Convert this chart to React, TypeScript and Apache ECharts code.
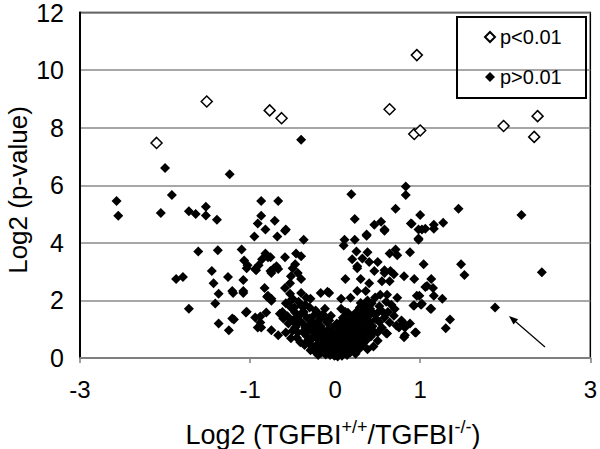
import React, { useEffect, useRef } from "react";
import * as echarts from "echarts";

const xTickLabels = [-3, -1, 0, 1, 3];
const xTickMarks = [-3, -1, 1, 3];
const yTicks = [0, 2, 4, 6, 8, 10, 12];

const sigLabel = "p<0.01";
const nsLabel = "p>0.01";

// p<0.01 (open diamonds): [log2 ratio, log2 p-value]
const sigPoints = [
  [-2.1, 7.47], [-1.51, 8.91], [-0.77, 8.6], [-0.63, 8.33], [0.96, 10.52],
  [0.64, 8.64], [0.93, 7.78], [1.0, 7.9], [1.98, 8.06], [2.38, 8.4], [2.34, 7.68],
];

// p>0.01 (filled diamonds), upper isolated points
const nsUpper = [
  [-2.57, 5.45], [-2.55, 4.94], [-2.0, 6.6], [-2.05, 5.04], [-1.92, 5.66], [-1.72, 5.1],
  [-1.64, 5.0], [-1.52, 5.25], [-1.52, 4.95], [-1.39, 4.8], [-1.24, 6.38], [-0.87, 5.45],
  [-0.87, 4.94], [-0.67, 5.45], [-0.71, 4.77], [-0.91, 4.67], [-0.4, 7.58], [0.19, 5.69],
  [0.23, 4.83], [0.46, 4.63], [0.54, 4.73], [0.71, 5.18], [0.83, 5.96], [0.83, 5.66],
  [1.0, 4.97], [0.89, 4.67], [1.16, 4.63], [1.27, 4.7], [1.45, 5.18], [2.19, 4.97],
  [-0.58, 4.46], [-0.37, 4.11], [-0.82, 4.46], [-0.59, 4.42], [-0.68, 4.22], [-0.95, 4.22],
  [0.9, 4.66], [0.98, 4.46], [1.06, 4.49], [0.37, 4.25], [0.98, 4.15], [0.58, 4.46],
  [1.02, 4.46], [1.16, 4.49], [0.58, 4.42], [0.37, 4.29], [0.11, 4.11], [0.23, 4.11],
];

// p>0.01 right-side scattered points
const nsRight = [
  [2.43, 2.98], [1.48, 3.26], [1.52, 2.88], [1.88, 1.75], [1.35, 1.34], [1.3, 1.03],
  [1.26, 2.06], [1.16, 2.16], [1.13, 1.71], [1.15, 2.43], [1.13, 2.74], [1.06, 2.47],
  [0.93, 2.74], [1.04, 3.26], [0.99, 2.16], [0.92, 1.82], [1.01, 1.85], [0.95, 0.89],
  [0.88, 3.67], [0.98, 4.11], [0.82, 1.06], [0.81, 0.72], [0.72, 1.13], [0.6, 0.86],
  [0.1, 3.91], [0.25, 3.7], [0.38, 3.67], [0.32, 3.46], [0.2, 3.43], [0.4, 3.33],
  [0.5, 3.33], [0.64, 3.63], [0.71, 3.77], [0.73, 3.57], [0.26, 3.19], [0.58, 3.05],
  [0.65, 3.02], [0.26, 3.12], [0.46, 3.02], [0.58, 2.95], [0.69, 2.91], [0.81, 2.84],
  [0.12, 2.74], [0.3, 2.74], [0.4, 2.6], [0.55, 2.67], [0.64, 2.67], [0.26, 2.33],
  [0.36, 2.33], [0.53, 2.2], [0.61, 2.2], [0.73, 2.09], [0.96, 2.16], [1.08, 2.5],
  [0.07, 2.06], [0.18, 2.09], [0.3, 1.91], [0.4, 1.82], [-0.07, 2.26], [0.93, 1.82],
  [1.02, 1.88], [1.12, 1.71], [0.07, 1.71], [0.15, 1.57], [0.41, 1.71], [0.5, 1.57],
  [0.58, 1.41], [0.69, 1.47], [0.64, 1.23], [0.75, 1.06], [0.81, 1.2], [0.61, 0.85],
  [0.82, 0.79], [0.94, 0.89], [0.5, 0.89], [0.34, 0.55], [0.23, 0.45],
];

// p>0.01 left-side scattered points
const nsLeft = [
  [-1.87, 2.74], [-1.79, 2.81], [-1.72, 1.71], [-1.61, 3.7], [-1.38, 3.74], [-1.45, 3.02],
  [-1.43, 2.6], [-1.37, 2.23], [-1.41, 1.89], [-1.37, 1.2], [-1.25, 0.96], [-1.19, 1.34],
  [-1.26, 2.81], [-1.2, 2.26], [-1.08, 2.26], [-1.08, 2.71], [-1.1, 3.77], [-1.05, 1.58],
  [-1.07, 3.39], [-1.03, 3.22], [-0.94, 1.41], [-0.91, 1.06], [-0.88, 1.44], [-0.94, 3.09],
  [-0.83, 2.43], [-0.81, 1.58], [-0.82, 3.63], [-0.86, 3.43], [-0.79, 3.5], [-0.59, 3.5],
  [-0.75, 2.95], [-0.72, 3.12], [-0.67, 3.09], [-0.8, 2.13], [-0.75, 1.99], [-0.76, 3.5],
  [-0.46, 3.63], [-0.4, 3.53], [-0.47, 3.26], [-0.69, 3.19], [-0.9, 3.22], [-1.04, 3.12],
  [-0.93, 3.05], [-0.76, 3.02], [-0.5, 3.12], [-1.21, 2.33], [-1.08, 2.33], [-0.79, 2.16],
  [-0.75, 2.06], [-0.59, 2.43], [-0.53, 2.6], [-0.52, 2.84], [-0.44, 2.95], [-0.4, 2.74],
  [-0.4, 2.26], [-0.34, 2.09], [-0.29, 2.06], [-0.17, 2.26], [-0.09, 2.3], [-0.5, 2.06],
  [-0.53, 2.23], [-1.21, 1.37], [-1.04, 1.61], [-0.88, 1.23], [-0.87, 1.06], [-0.65, 1.54],
  [-0.61, 1.37], [-0.52, 1.75], [-0.47, 1.58], [-0.4, 1.82], [-0.4, 1.54], [-0.3, 1.37],
  [-0.2, 1.54], [-0.12, 1.71], [-0.05, 1.47], [-0.75, 0.96], [-0.67, 0.79], [-0.58, 0.89],
  [-0.52, 0.69], [-0.47, 1.06], [-0.44, 0.89], [-0.32, 0.96], [-0.41, 0.55], [-0.32, 0.62],
  [-0.24, 0.79], [-0.2, 0.45], [-0.12, 0.45], [-0.29, 0.27], [-0.09, 0.21], [-0.17, 0.17],
  [0.0, 0.1],
];

// p>0.01 dense central cluster
const nsCluster = [
  [-0.55, 1.2], [-0.5, 1.3], [-0.45, 1.15], [-0.42, 1.3], [-0.38, 1.2], [-0.35, 1.05],
  [-0.33, 1.4], [-0.3, 1.15], [-0.28, 0.95], [-0.27, 1.25], [-0.25, 1.05], [-0.24, 0.88],
  [-0.22, 1.2], [-0.21, 0.7], [-0.2, 1.0], [-0.19, 0.85], [-0.18, 0.6], [-0.17, 1.1],
  [-0.16, 0.75], [-0.15, 0.5], [-0.14, 0.95], [-0.13, 0.65], [-0.12, 0.35], [-0.11, 0.8],
  [-0.1, 0.55], [-0.09, 0.3], [-0.08, 0.7], [-0.07, 0.45], [-0.06, 0.2], [-0.05, 0.6],
  [-0.04, 0.35], [-0.03, 0.15], [-0.02, 0.5], [-0.01, 0.25], [0.0, 0.4], [0.01, 0.12],
  [0.02, 0.3], [0.03, 0.55], [0.04, 0.2], [0.05, 0.45], [0.06, 0.7], [0.07, 0.3],
  [0.08, 0.55], [0.09, 0.85], [0.1, 0.4], [0.11, 0.65], [0.12, 1.0], [0.13, 0.5],
  [0.14, 0.8], [0.15, 1.15], [0.16, 0.6], [0.17, 0.95], [0.18, 1.3], [0.19, 0.75],
  [0.2, 1.1], [0.21, 1.45], [0.22, 0.9], [0.23, 1.25], [0.24, 0.6], [0.25, 1.6],
  [0.26, 1.05], [0.27, 1.4], [0.28, 0.8], [0.29, 1.75], [0.3, 1.2], [0.31, 1.55],
  [0.32, 0.95], [0.33, 1.85], [0.34, 1.35], [0.36, 1.65], [0.37, 1.1], [0.38, 2.0],
  [0.39, 1.45], [0.41, 1.25], [0.43, 1.9], [0.45, 1.55], [0.47, 2.1], [0.48, 1.35],
  [0.52, 1.8], [-0.62, 1.6], [-0.58, 1.9], [-0.56, 1.45], [-0.52, 2.0], [-0.48, 1.75],
  [-0.46, 1.4], [-0.43, 1.95], [-0.37, 1.6], [-0.35, 1.85], [-0.3, 1.75], [-0.26, 1.45],
  [-0.23, 1.65], [-0.18, 1.35], [-0.15, 1.5], [-0.1, 1.25], [-0.08, 1.0], [-0.05, 0.85],
  [-0.02, 0.75], [0.0, 0.65], [0.02, 0.9], [0.04, 1.1], [0.05, 0.8], [0.07, 1.25],
  [0.09, 1.4], [0.1, 1.05], [0.12, 1.6], [0.14, 1.3], [-0.04, 1.05], [-0.07, 1.3],
  [-0.12, 1.45], [-0.26, 0.7], [-0.3, 0.5], [-0.22, 0.45], [-0.33, 0.75], [-0.38, 0.9],
  [-0.16, 0.3], [-0.14, 0.2], [0.06, 0.15], [0.1, 0.2], [0.13, 0.25], [0.16, 0.35],
  [0.19, 0.5], [0.22, 0.65], [0.18, 0.2], [0.27, 0.55], [0.3, 0.7], [0.35, 0.85],
  [0.4, 1.0], [0.44, 1.1], [0.46, 0.9], [0.55, 1.05], [0.52, 1.25], [0.56, 1.6],
  [0.62, 1.6], [0.66, 1.85], [0.6, 1.95], [0.7, 1.7], [0.78, 1.3], [0.88, 1.2],
  [0.03, 0.05], [-0.01, 0.08], [0.08, 0.08], [-0.06, 0.1],
  [-0.45, 0.7], [-0.36, 0.45], [-0.27, 0.35], [-0.23, 0.2], [-0.2, 0.1], [-0.11, 0.12],
  [-0.1, 0.9], [-0.06, 0.95], [0.02, 1.2], [0.06, 1.0], [0.11, 1.2], [0.16, 1.0],
  [0.21, 0.3], [0.25, 0.4], [0.28, 0.3], [0.32, 0.45], [0.36, 0.6], [0.42, 0.75],
  [0.14, 0.1], [0.24, 0.15], [0.5, 0.6], [0.45, 0.4], [0.38, 0.3], [-0.5, 0.95],
];

const FONT = "'Liberation Sans', Arial, sans-serif";

export default function App() {
  const ref = useRef<HTMLDivElement>(null);

  useEffect(() => {
    if (!ref.current) return;
    const chart = echarts.init(ref.current, null, { renderer: "svg" });
    const nsPoints = [...nsUpper, ...nsRight, ...nsLeft, ...nsCluster];

    const option: any = {
      animation: false,
      backgroundColor: "#fff",
      textStyle: { fontFamily: FONT },
      grid: {
        left: 80,
        right: 5,
        top: 8,
        bottom: 91,
        show: true,
        borderColor: "#000",
        borderWidth: 1.5,
        backgroundColor: "transparent",
      },
      xAxis: {
        type: "value",
        min: -3,
        max: 3,
        interval: 1,
        axisLine: { show: true, onZero: false, lineStyle: { color: "#7f7f7f", width: 2 } },
        axisTick: {
          show: true,
          inside: false,
          length: 5,
          customValues: xTickMarks,
          lineStyle: { color: "#7f7f7f", width: 1.5 },
        },
        axisLabel: {
          customValues: xTickLabels,
          fontSize: 24,
          color: "#000",
          fontFamily: FONT,
          margin: 19,
        },
        splitLine: { show: false },
      },
      yAxis: {
        type: "value",
        min: 0,
        max: 12,
        interval: 2,
        axisLine: { show: true, onZero: false, lineStyle: { color: "#000", width: 2 } },
        axisTick: { show: false },
        axisLabel: {
          customValues: yTicks,
          fontSize: 25,
          color: "#000",
          fontFamily: FONT,
          margin: 16,
        },
        splitLine: { show: true, lineStyle: { color: "#8a8a8a", width: 1.5 } },
      },
      legend: {
        orient: "vertical",
        left: 479,
        top: 20,
        itemWidth: 10,
        itemHeight: 10,
        itemGap: 16,
        data: [sigLabel, nsLabel],
        textStyle: { fontSize: 20, color: "#000", fontFamily: FONT, lineHeight: 24 },
      },
      graphic: [
        {
          type: "rect",
          shape: { x: 457, y: 17, width: 129, height: 81 },
          style: { fill: "none", stroke: "#000", lineWidth: 2 },
          z: 10,
        },
        {
          type: "text",
          x: 333,
          y: 433,
          style: {
            text: "{a|Log2 (TGFBI}{s|+/+}{a|/TGFBI}{s|-/-}{a|)}",
            align: "center",
            verticalAlign: "middle",
            rich: {
              a: { fontSize: 27, fontFamily: FONT, fill: "#000", lineHeight: 30, verticalAlign: "bottom" },
              s: { fontSize: 18, fontFamily: FONT, fill: "#000", lineHeight: 18, verticalAlign: "top" },
            },
          },
        },
        {
          type: "text",
          x: 18,
          y: 190,
          rotation: Math.PI / 2,
          style: {
            text: "Log2 (p-value)",
            fontSize: 26,
            fontFamily: FONT,
            fill: "#000",
            align: "center",
            verticalAlign: "middle",
          },
        },
        {
          type: "line",
          shape: { x1: 545, y1: 347, x2: 512, y2: 318.5 },
          style: { stroke: "#000", lineWidth: 1.2 },
        },
        {
          type: "polygon",
          shape: { points: [[509, 316], [518.1, 319.2], [513.5, 324.5]] },
          style: { fill: "#000" },
        },
      ],
      series: [
        {
          name: sigLabel,
          type: "scatter",
          symbol: "diamond",
          symbolSize: 11,
          data: sigPoints,
          itemStyle: { color: "#fff", borderColor: "#000", borderWidth: 1.5, opacity: 1 },
          z: 3,
        },
        {
          name: nsLabel,
          type: "scatter",
          symbol: "diamond",
          symbolSize: 10,
          data: nsPoints,
          itemStyle: { color: "#000", opacity: 1 },
          z: 2,
        },
      ],
    };

    chart.setOption(option);
    return () => chart.dispose();
  }, []);

  return (
    <div
      ref={ref}
      style={{ position: "fixed", left: 0, top: 0, width: 600, height: 449, background: "#fff" }}
    />
  );
}
